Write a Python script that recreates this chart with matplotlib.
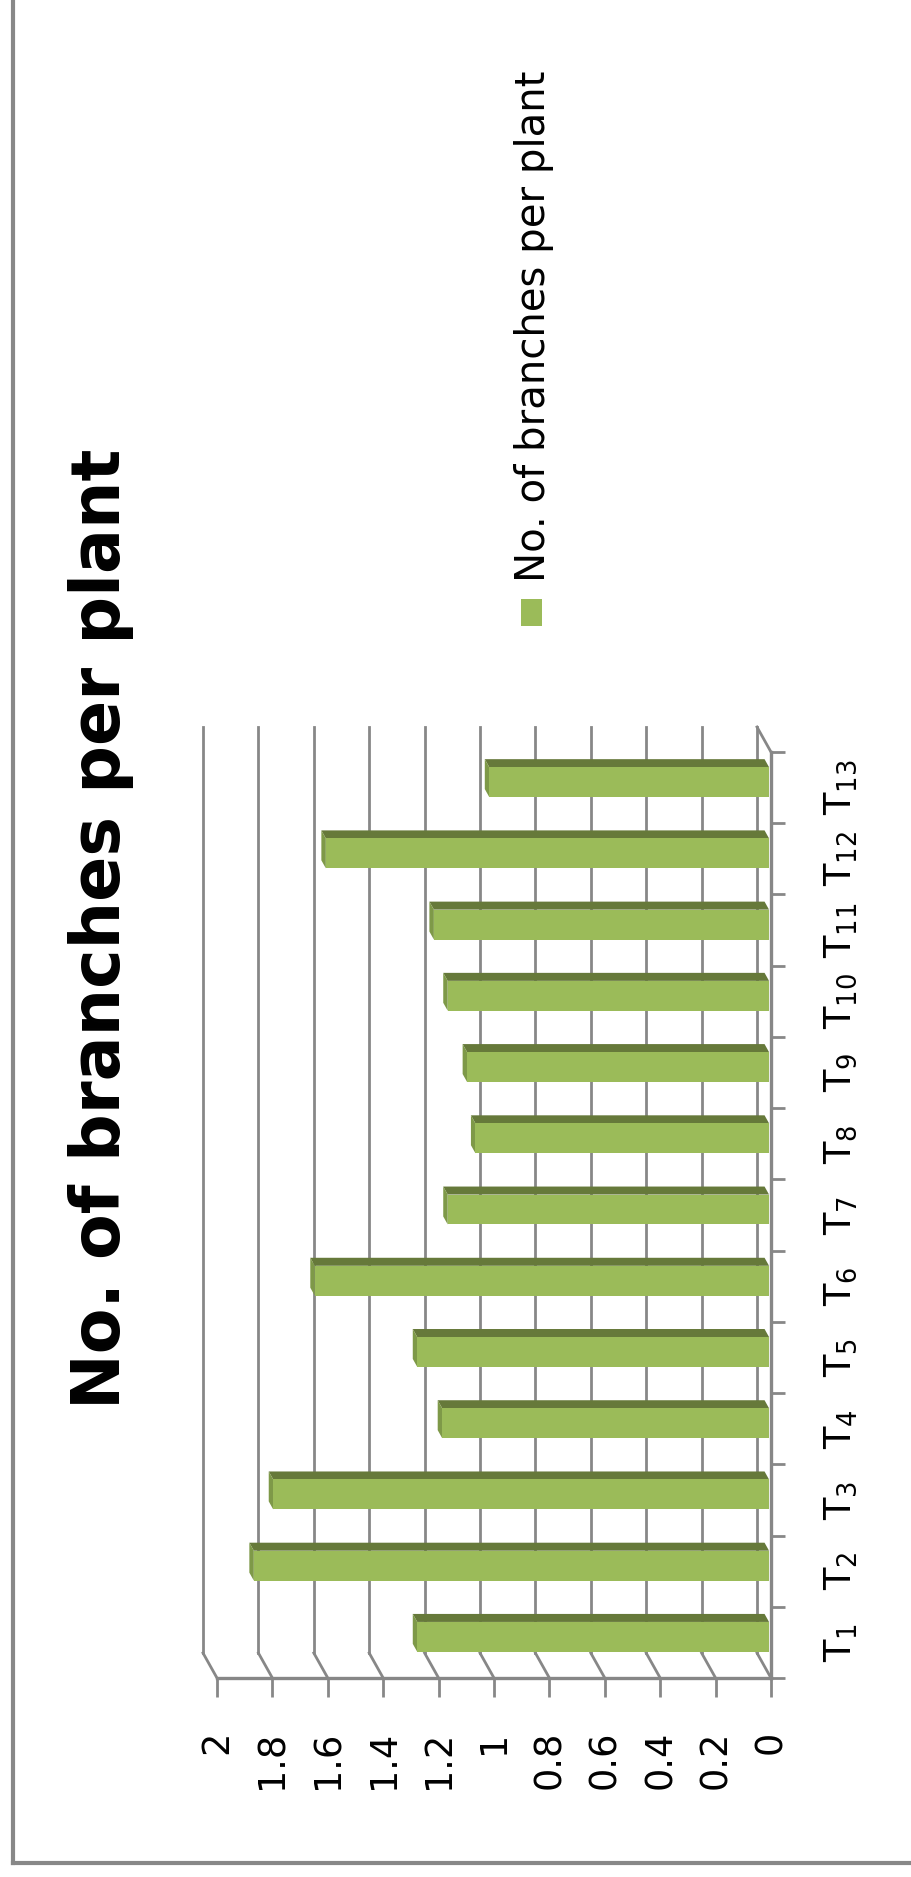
import matplotlib
matplotlib.use("Agg")
import matplotlib.pyplot as plt
from matplotlib.patches import Polygon, Rectangle
from matplotlib.lines import Line2D

plt.rcParams['font.family'] = ['DejaVu Sans']
plt.rcParams['mathtext.fontset'] = 'dejavusans'

# ---- data ----
treatments = [f"T{i}" for i in range(1, 14)]
branches = [1.27, 1.86, 1.79, 1.18, 1.27, 1.64, 1.16, 1.06, 1.09, 1.16, 1.21, 1.60, 1.01]
value_ticks = [0, 0.2, 0.4, 0.6, 0.8, 1.0, 1.2, 1.4, 1.6, 1.8, 2.0]
value_tick_labels = ['0', '0.2', '0.4', '0.6', '0.8', '1', '1.2', '1.4', '1.6', '1.8', '2']
title = "No. of branches per plant"
series_name = "No. of branches per plant"

# ---- styling ----
W, H = 912, 1877
FRONT = '#9BBB59'
TOP = '#66793A'
SIDE = '#7E9948'
GRID = '#878787'
FS = 26.5

fig = plt.figure(figsize=(W / 100, H / 100), dpi=100)
fig.patch.set_facecolor('white')

def fx(px):
    return px / W

def fy(py):
    return 1 - py / H

# plot area (front plane of the 3-D box)
x_left, x_right, y_top, y_bot = 217, 771, 752, 1678
ax = fig.add_axes([fx(x_left), fy(y_bot), fx(x_right - x_left), (y_bot - y_top) / H])
ax.set_xlim(2, 0)
ax.set_ylim(0, len(treatments))
ax.set_facecolor('none')

# depth of the box expressed in data units
px_per_val = (x_right - x_left) / 2.0
px_per_cat = (y_bot - y_top) / len(treatments)
dv = 14 / px_per_val
dc = 25 / px_per_cat

# back wall gridlines and floor edges
for v in value_ticks:
    ax.add_line(Line2D([v + dv, v + dv], [dc, len(treatments) + dc], color=GRID,
                       lw=2.0, clip_on=False, zorder=1))
    ax.add_line(Line2D([v, v + dv], [0, dc], color=GRID, lw=2.0, clip_on=False, zorder=1))
# top edge of the side wall
ax.add_line(Line2D([0, dv], [len(treatments), len(treatments) + dc], color=GRID,
                   lw=2.0, clip_on=False, zorder=1))

# 3-D bars
d0, d1 = 0.14, 0.46
bar_h = 0.42
for i, v in enumerate(branches):
    yc = i + 0.528 + d0 * dc
    lo, hi = yc - bar_h / 2, yc + bar_h / 2
    x0, xv = d0 * dv, v + d0 * dv
    ddv, ddc = (d1 - d0) * dv, (d1 - d0) * dc
    ax.add_patch(Polygon([(x0, hi), (xv, hi), (xv + ddv, hi + ddc), (x0 + ddv, hi + ddc)],
                         closed=True, facecolor=TOP, edgecolor='none', zorder=3, clip_on=False))
    ax.add_patch(Polygon([(xv, lo), (xv, hi), (xv + ddv, hi + ddc), (xv + ddv, lo + ddc)],
                         closed=True, facecolor=SIDE, edgecolor='none', zorder=3, clip_on=False))
ax.barh([i + 0.528 + d0 * dc for i in range(len(branches))], branches, height=bar_h,
        left=d0 * dv, color=FRONT, edgecolor='none', zorder=4)

# axes lines
for s in ['top', 'left']:
    ax.spines[s].set_visible(False)
for s in ['bottom', 'right']:
    ax.spines[s].set_color(GRID)
    ax.spines[s].set_linewidth(2.4)
    ax.spines[s].set_zorder(5)

ax.set_xticks(value_ticks)
ax.set_xticklabels(value_tick_labels, rotation=90, va='top', ha='center', fontsize=FS)
ax.tick_params(axis='x', direction='out', length=13.7, width=2.0, color=GRID, pad=24)

ax.yaxis.tick_right()
ax.set_yticks(range(len(treatments) + 1))
ax.set_yticklabels([])
ax.set_yticks([i + 0.5 for i in range(len(treatments))], minor=True)
cat_labels = [r'$\mathregular{T_{%s}}$' % t[1:] for t in treatments]
ax.set_yticklabels(cat_labels, minor=True, rotation=90, va='center', ha='left', fontsize=FS)
ax.tick_params(axis='y', which='major', direction='out', length=10, width=2.0, color=GRID)
ax.tick_params(axis='y', which='minor', length=0, pad=37)

# title
fig.text(fx(101), fy(929), title, rotation=90, ha='center', va='center',
         fontsize=48, fontweight='bold')

# legend
fig.add_artist(Rectangle((fx(521), fy(626)), fx(21), 27 / H, transform=fig.transFigure,
                         facecolor=FRONT, edgecolor='none'))
fig.text(fx(514), fy(582), series_name, rotation=90, ha='left', va='bottom', fontsize=29)

# chart border
fig.add_artist(Line2D([fx(13), fx(13)], [fy(0) + 0.01, fy(1863)], transform=fig.transFigure,
                      color='#888888', lw=3))
fig.add_artist(Line2D([fx(13), 1.01], [fy(1863), fy(1863)], transform=fig.transFigure,
                      color='#888888', lw=3))

fig.savefig('out.png', dpi=100)
